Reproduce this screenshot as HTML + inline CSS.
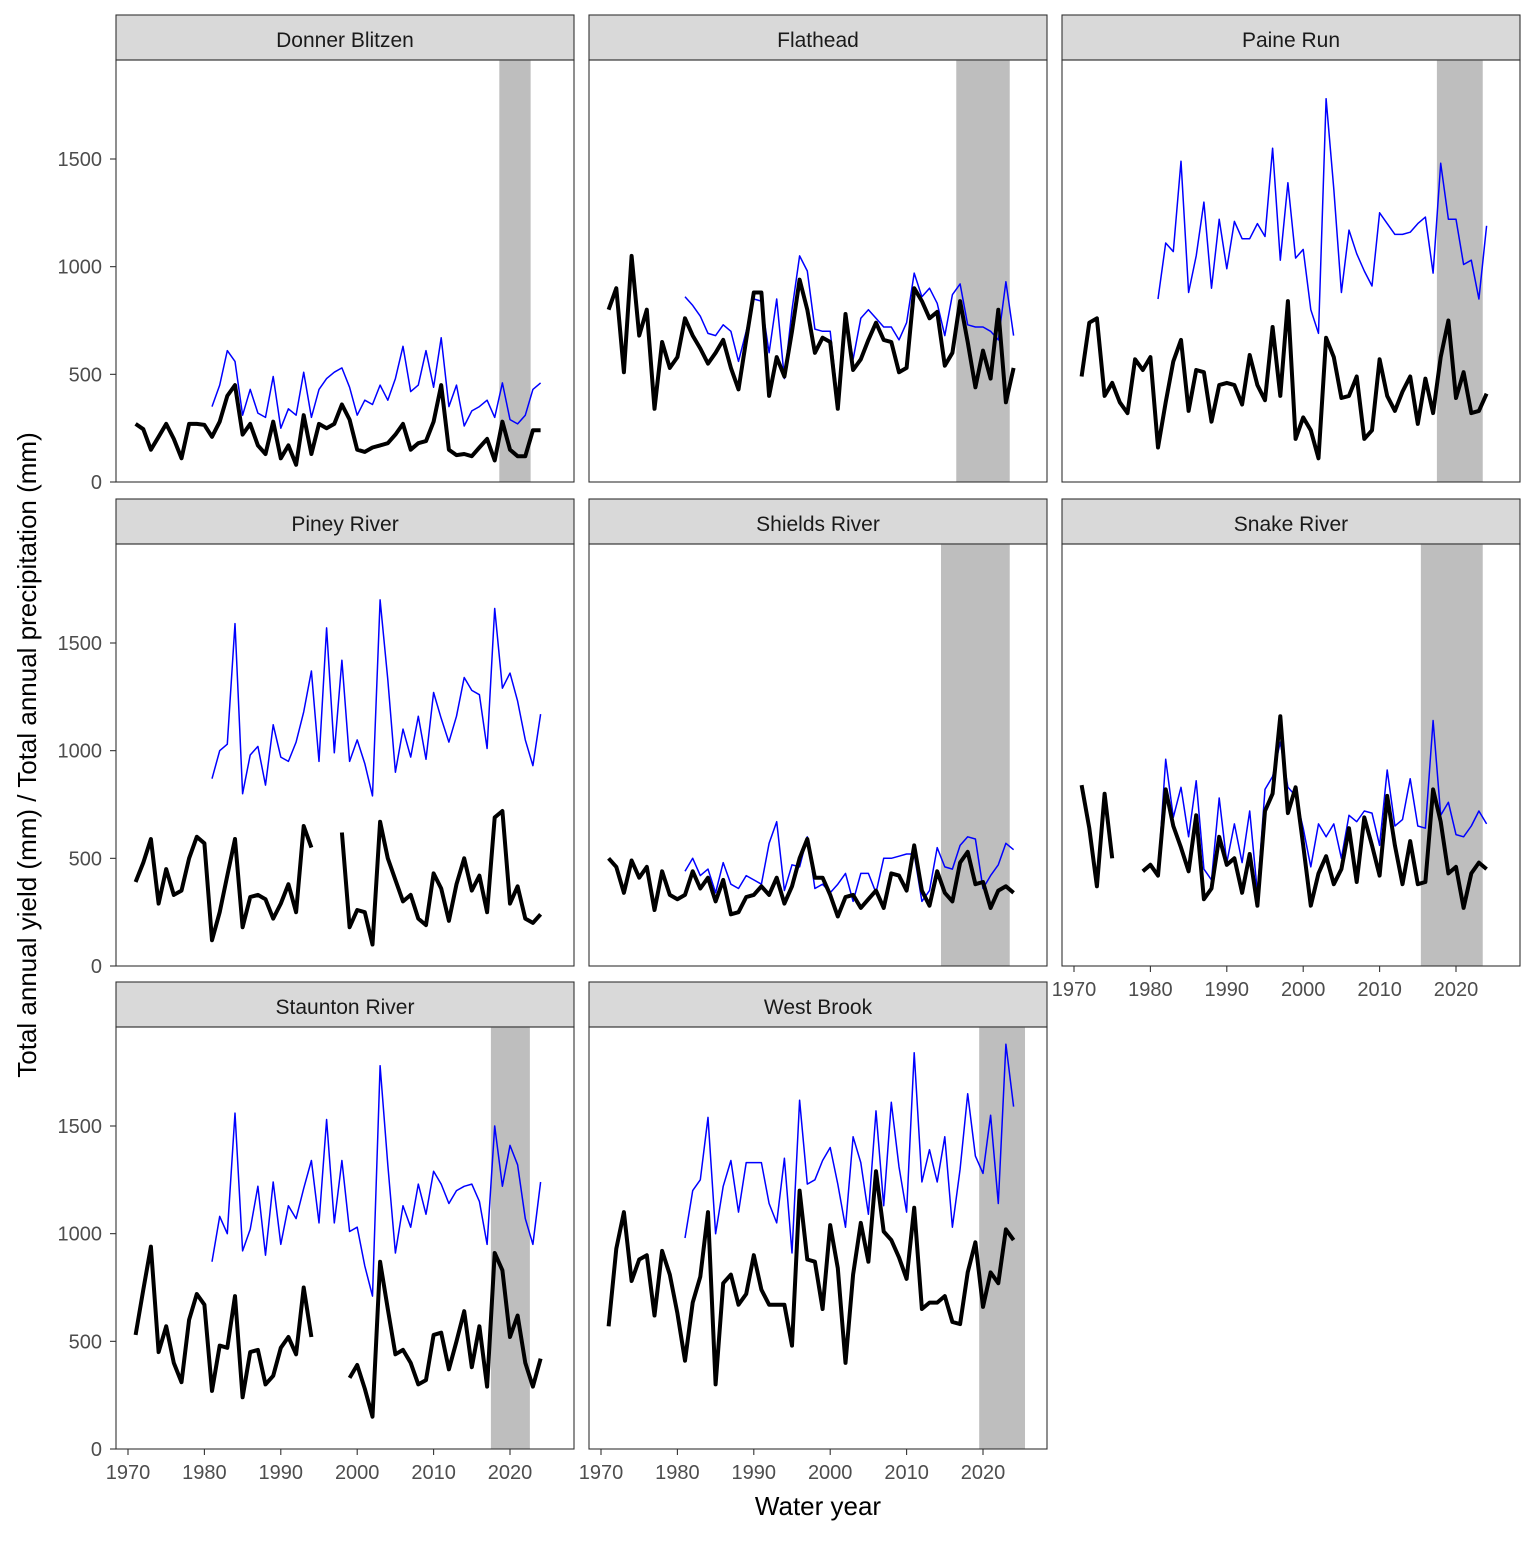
<!DOCTYPE html>
<html><head><meta charset="utf-8">
<style>
html,body{margin:0;padding:0;background:#fff;}
svg text{font-family:"Liberation Sans",Arial,sans-serif;}
</style></head>
<body>
<svg id="s" width="1536" height="1536" xmlns="http://www.w3.org/2000/svg"></svg>
<script>
const cols=[116,589,1062], W=458;
const rows=[{st:15,top:60,bot:482},{st:499,top:544,bot:966},{st:982,top:1027,bot:1449}];
const K=323/1500, PX=7.64;
function X(c,yr){return cols[c]+12+(yr-1970)*PX;}
const P=[
{n:"Donner Blitzen",r:0,c:0,sh:[2018.6,2022.7],
b:[1971,[270,245,150,210,270,200,110,270,270,265,210,280,400,450,220,270,170,130,280,110,170,80,310,130,270,250,270,360,290,150,140,160,170,180,220,270,150,180,190,280,450,150,125,130,120,160,200,100,280,150,120,120,240,240]],
u:[1981,[350,450,610,560,310,430,320,300,490,250,340,310,510,300,430,480,510,530,440,310,380,360,450,380,480,630,420,450,610,440,670,350,450,260,330,350,380,300,460,290,270,310,430,460]]},
{n:"Flathead",r:0,c:1,sh:[2016.5,2023.5],
b:[1971,[800,900,510,1050,680,800,340,650,530,580,760,680,620,550,600,660,530,430,660,880,880,400,580,490,700,940,800,600,670,650,340,780,520,570,660,740,660,650,510,530,900,840,760,790,540,600,840,650,440,610,480,800,370,530]],
u:[1981,[860,820,770,690,680,730,700,560,700,850,840,600,850,480,800,1050,980,710,700,700,380,780,570,760,800,760,720,720,660,740,970,860,900,830,680,870,920,730,720,720,700,660,930,680]]},
{n:"Paine Run",r:0,c:2,sh:[2017.5,2023.5],
b:[1971,[490,740,760,400,460,370,320,570,520,580,160,370,560,660,330,520,510,280,450,460,450,360,590,450,380,720,400,840,200,300,240,110,670,580,390,400,490,200,240,570,400,330,420,490,270,480,320,580,750,390,510,320,330,410]],
u:[1981,[850,1110,1070,1490,880,1050,1300,900,1220,990,1210,1130,1130,1200,1140,1550,1030,1390,1040,1080,800,690,1780,1360,880,1170,1060,980,910,1250,1200,1150,1150,1160,1200,1230,970,1480,1220,1220,1010,1030,850,1190]]},
{n:"Piney River",r:1,c:0,sh:null,
b:[1971,[390,480,590,290,450,330,350,500,600,570,120,250,420,590,180,320,330,310,220,290,380,250,650,550,null,null,null,620,180,260,250,100,670,500,400,300,330,220,190,430,360,210,380,500,350,420,250,690,720,290,370,220,200,240]],
u:[1981,[870,1000,1030,1590,800,980,1020,840,1120,970,950,1040,1180,1370,950,1570,990,1420,950,1050,940,790,1700,1330,900,1100,970,1160,960,1270,1150,1040,1160,1340,1280,1260,1010,1660,1290,1360,1230,1050,930,1170]]},
{n:"Shields River",r:1,c:1,sh:[2014.5,2023.5],
b:[1971,[500,460,340,490,410,460,260,440,330,310,330,440,360,410,300,400,240,250,320,330,370,330,410,290,370,500,590,410,410,330,230,320,330,270,310,350,270,430,420,350,560,350,280,440,340,300,480,530,380,390,270,350,370,340]],
u:[1981,[440,500,420,450,340,480,380,360,420,400,380,570,670,350,470,460,600,360,380,340,380,430,300,430,430,340,500,500,510,520,520,300,350,550,460,450,560,600,590,360,420,470,570,540]]},
{n:"Snake River",r:1,c:2,sh:[2015.4,2023.5],
b:[1971,[840,640,370,800,500,null,null,null,440,470,420,820,650,550,440,700,310,360,600,470,500,340,520,280,720,800,1160,710,830,560,280,430,510,380,450,640,390,690,560,420,790,560,380,580,380,390,820,670,430,460,270,430,480,450]],
u:[1980,[460,430,960,690,830,600,860,450,400,780,480,660,480,720,340,820,880,1040,830,790,640,460,660,600,660,500,700,670,720,710,560,910,650,680,870,650,640,1140,700,760,610,600,650,720,660]]},
{n:"Staunton River",r:2,c:0,sh:[2017.5,2022.6],
b:[1971,[530,740,940,450,570,400,310,600,720,670,270,480,470,710,240,450,460,300,340,470,520,440,750,520,null,null,null,null,330,390,280,150,870,650,440,460,400,300,320,530,540,370,500,640,380,570,290,910,830,520,620,400,290,420]],
u:[1981,[870,1080,1000,1560,920,1020,1220,900,1240,950,1130,1070,1210,1340,1050,1530,1050,1340,1010,1030,850,710,1780,1320,910,1130,1030,1230,1090,1290,1230,1140,1200,1220,1230,1150,950,1500,1220,1410,1320,1070,950,1240]]},
{n:"West Brook",r:2,c:1,sh:[2019.5,2025.5],
b:[1971,[570,930,1100,780,880,900,620,920,810,630,410,680,800,1100,300,770,810,670,720,900,740,670,670,670,480,1200,880,870,650,1040,840,400,810,1050,870,1290,1010,970,890,790,1120,650,680,680,710,590,580,820,960,660,820,770,1020,970]],
u:[1981,[980,1200,1250,1540,1000,1220,1340,1100,1330,1330,1330,1140,1050,1350,910,1620,1230,1250,1340,1400,1230,1030,1450,1330,1090,1570,1130,1610,1310,1100,1840,1240,1390,1240,1450,1030,1300,1650,1360,1280,1550,1140,1880,1590]]}
];
let h='';
function path(p,s,col,w){const R=rows[p.r];let d='',pen=false;
 s[1].forEach((v,i)=>{if(v==null){pen=false;return;}
  const x=X(p.c,s[0]+i).toFixed(1),y=(R.bot-v*K).toFixed(1);
  d+=(pen?'L':'M')+x+' '+y;pen=true;});
 return `<path d="${d}" fill="none" stroke="${col}" stroke-width="${w}" stroke-linejoin="round"/>`;}
P.forEach(p=>{const R=rows[p.r],x0=cols[p.c];
 h+=`<rect x="${x0}" y="${R.st}" width="${W}" height="${R.top-R.st}" fill="#d9d9d9" stroke="#333" stroke-width="1.1"/>`;
 h+=`<text x="${x0+W/2}" y="${R.st+32}" font-size="21" text-anchor="middle" fill="#1a1a1a">${p.n}</text>`;
 h+=`<svg x="${x0}" y="${R.top}" width="${W}" height="${R.bot-R.top}" overflow="hidden"><g transform="translate(${-x0},${-R.top})">`;
 if(p.sh){const a=X(p.c,p.sh[0]),b=X(p.c,p.sh[1]);h+=`<rect x="${a}" y="${R.top}" width="${b-a}" height="${R.bot-R.top}" fill="#bebebe"/>`;}
 h+=path(p,p.u,'#0000ff',1.5);
 h+=path(p,p.b,'#000',4);
 h+=`</g></svg>`;
 h+=`<rect x="${x0}" y="${R.top}" width="${W}" height="${R.bot-R.top}" fill="none" stroke="#333" stroke-width="1.1"/>`;
 if(p.c==0){[0,500,1000,1500].forEach(v=>{const y=R.bot-v*K;
  h+=`<line x1="110" x2="116" y1="${y}" y2="${y}" stroke="#333" stroke-width="1.1"/>`;
  h+=`<text x="102" y="${y+7}" font-size="20" text-anchor="end" fill="#4d4d4d">${v}</text>`;});}
 if(p.r==2||(p.r==1&&p.c==2)){[1970,1980,1990,2000,2010,2020].forEach(yr=>{const x=X(p.c,yr);
  h+=`<line x1="${x}" x2="${x}" y1="${R.bot}" y2="${R.bot+6}" stroke="#333" stroke-width="1.1"/>`;
  h+=`<text x="${x}" y="${R.bot+30}" font-size="20" text-anchor="middle" fill="#4d4d4d">${yr}</text>`;});}
});
h+=`<text x="818" y="1515" font-size="26" text-anchor="middle" fill="#000">Water year</text>`;
h+=`<text transform="translate(36,755) rotate(-90)" font-size="26" text-anchor="middle" fill="#000">Total annual yield (mm) / Total annual precipitation (mm)</text>`;
document.getElementById('s').innerHTML=h;
</script>
</body></html>
